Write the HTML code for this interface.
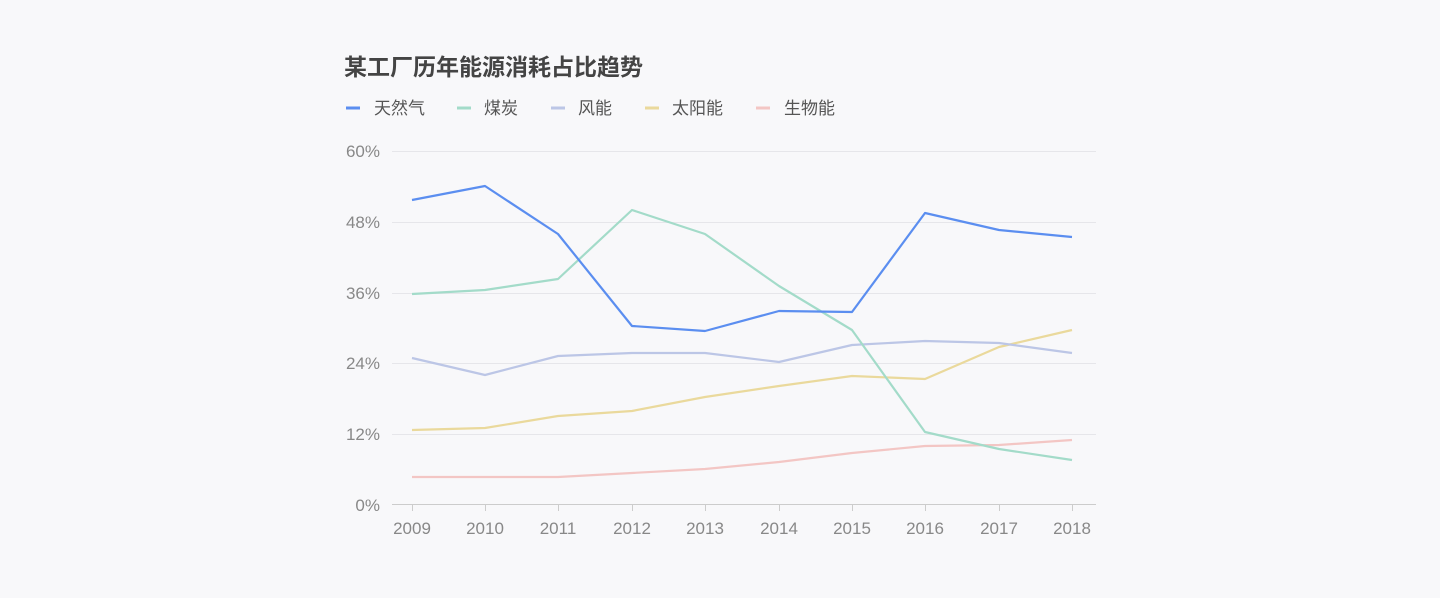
<!DOCTYPE html>
<html><head><meta charset="utf-8"><style>
html,body{margin:0;padding:0;background:#f8f8fa;}
svg{display:block;font-family:"Liberation Sans","Noto Sans CJK SC",sans-serif;}
</style></head><body>
<svg width="1440" height="598" viewBox="0 0 1440 598">
<rect width="1440" height="598" fill="#f8f8fa"/>
<text x="344" y="75" font-size="23" font-weight="bold" fill="#444">某工厂历年能源消耗占比趋势</text>
<g font-size="17" fill="#555">
<line x1="346" y1="108" x2="360" y2="108" stroke="#5b8ef0" stroke-width="3"/><text x="374" y="114">天然气</text>
<line x1="457" y1="108" x2="471" y2="108" stroke="#a3dbc9" stroke-width="3"/><text x="484" y="114">煤炭</text>
<line x1="551" y1="108" x2="565" y2="108" stroke="#bcc6e6" stroke-width="3"/><text x="578" y="114">风能</text>
<line x1="645" y1="108" x2="659" y2="108" stroke="#ead99c" stroke-width="3"/><text x="672" y="114">太阳能</text>
<line x1="756" y1="108" x2="770" y2="108" stroke="#f3c6c4" stroke-width="3"/><text x="784" y="114">生物能</text>
</g>
<g stroke="#e6e6ea" stroke-width="1">
<line x1="392" y1="151.5" x2="1096" y2="151.5"/>
<line x1="392" y1="222.5" x2="1096" y2="222.5"/>
<line x1="392" y1="293.5" x2="1096" y2="293.5"/>
<line x1="392" y1="363.5" x2="1096" y2="363.5"/>
<line x1="392" y1="434.5" x2="1096" y2="434.5"/>
</g>
<line x1="392" y1="504.5" x2="1096" y2="504.5" stroke="#ccc"/>
<g stroke="#ccc">
<line x1="412.5" y1="505" x2="412.5" y2="511"/><line x1="485.5" y1="505" x2="485.5" y2="511"/><line x1="558.5" y1="505" x2="558.5" y2="511"/><line x1="632.5" y1="505" x2="632.5" y2="511"/><line x1="705.5" y1="505" x2="705.5" y2="511"/><line x1="779.5" y1="505" x2="779.5" y2="511"/><line x1="852.5" y1="505" x2="852.5" y2="511"/><line x1="925.5" y1="505" x2="925.5" y2="511"/><line x1="999.5" y1="505" x2="999.5" y2="511"/><line x1="1072.5" y1="505" x2="1072.5" y2="511"/>
</g>
<g font-size="17" fill="#888" text-anchor="end">
<text x="380" y="157">60%</text><text x="380" y="228">48%</text><text x="380" y="299">36%</text><text x="380" y="369">24%</text><text x="380" y="440">12%</text><text x="380" y="511">0%</text>
</g>
<g font-size="17" fill="#888" text-anchor="middle">
<text x="412" y="534">2009</text><text x="485" y="534">2010</text><text x="558" y="534">2011</text><text x="632" y="534">2012</text><text x="705" y="534">2013</text><text x="779" y="534">2014</text><text x="852" y="534">2015</text><text x="925" y="534">2016</text><text x="999" y="534">2017</text><text x="1072" y="534">2018</text>
</g>
<g fill="none" stroke-width="2.2" stroke-linejoin="round">
<polyline stroke="#f3c6c4" points="412,477 485,477 558,477 632,473 705,469 779,462 852,453 925,446 999,445 1072,440"/>
<polyline stroke="#ead99c" points="412,430 485,428 558,416 632,411 705,397 779,386 852,376 925,379 999,347 1072,330"/>
<polyline stroke="#bcc6e6" points="412,358 485,375 558,356 632,353 705,353 779,362 852,345 925,341 999,343 1072,353"/>
<polyline stroke="#a3dbc9" points="412,294 485,290 558,279 632,210 705,234 779,286 852,330 925,432 999,449 1072,460"/>
<polyline stroke="#5b8ef0" points="412,200 485,186 558,234 632,326 705,331 779,311 852,312 925,213 999,230 1072,237"/>
</g>
</svg>
</body></html>
